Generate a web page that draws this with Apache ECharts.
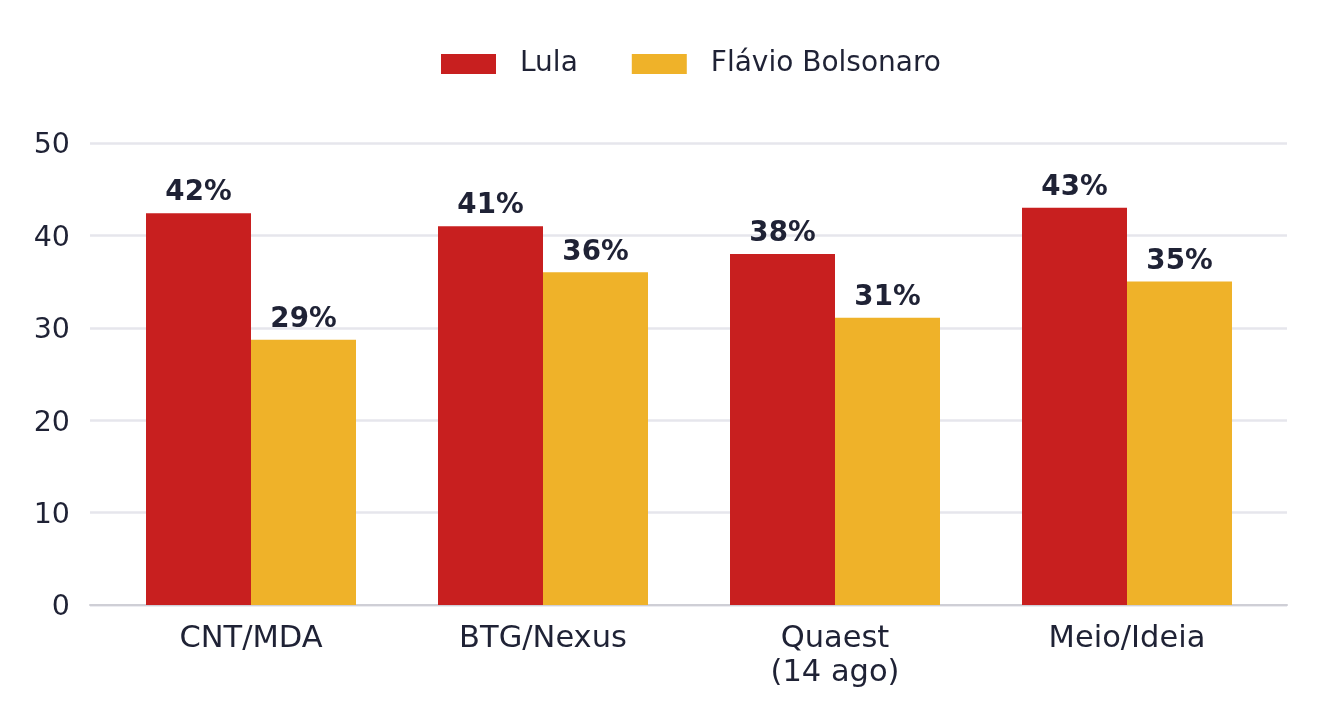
<!DOCTYPE html>
<html>
<head>
<meta charset="utf-8">
<script src="https://cdn.jsdelivr.net/npm/echarts@6/dist/echarts.min.js"></script>
<style>
  html, body { margin: 0; padding: 0; background: #fff; }
  #chart { width: 1320px; height: 720px; }
</style>
</head>
<body>
<div id="chart"></div>
<script>
var categories = ['CNT/MDA', 'BTG/Nexus', 'Quaest\n(14 ago)', 'Meio/Ideia'];
var lulaValues = [42.4, 41, 38, 43];
var flavioValues = [28.7, 36, 31.1, 35];
var seriesNames = ['Lula', 'Flávio Bolsonaro'];
var colors = ['#c81f1f', '#efb229'];
var textColor = '#1f2235';

var labelStyle = {
    show: true,
    position: 'top',
    distance: 6,
    color: textColor,
    fontFamily: 'DejaVu Sans',
    fontWeight: 'bold',
    fontSize: 27.7,
    formatter: function (p) { return Math.round(p.value) + '%'; }
};

var option = {
    animation: false,
    backgroundColor: '#fff',
    textStyle: { fontFamily: 'DejaVu Sans' },
    legend: {
        data: seriesNames,
        left: 436,
        top: 45,
        itemWidth: 55,
        itemHeight: 20,
        itemGap: 54,
        icon: 'rect',
        textStyle: {
            color: textColor,
            fontSize: 28,
            fontFamily: 'DejaVu Sans',
            padding: [0, 0, 0, 19]
        }
    },
    grid: [
        { left: 90, right: 33, top: 143, bottom: 115 },
        { left: 105, right: 47, top: 143, bottom: 115 }
    ],
    xAxis: [
        {
            gridIndex: 0,
            type: 'value',
            min: 0,
            max: 1,
            axisLine: { show: true, onZero: false, lineStyle: { color: '#cfcfd6', width: 2 } },
            axisTick: { show: false },
            axisLabel: { show: false },
            splitLine: { show: false }
        },
        {
            gridIndex: 1,
            type: 'category',
            data: categories,
            axisLine: { show: false },
            axisTick: { show: false },
            axisLabel: {
                color: textColor,
                fontSize: 30.5,
                lineHeight: 34,
                margin: 17,
                fontFamily: 'DejaVu Sans'
            }
        }
    ],
    yAxis: [
        {
            gridIndex: 0,
            type: 'value',
            min: 0,
            max: 50,
            interval: 10,
            axisLine: { show: false },
            axisTick: { show: false },
            axisLabel: {
                color: textColor,
                fontSize: 28.5,
                margin: 20,
                verticalAlign: 'top',
                lineHeight: 6,
                fontFamily: 'DejaVu Sans'
            },
            splitLine: { lineStyle: { color: '#e6e6ec', width: 2.5 } }
        },
        {
            gridIndex: 1,
            type: 'value',
            min: 0,
            max: 50,
            interval: 10,
            axisLine: { show: false },
            axisTick: { show: false },
            axisLabel: { show: false },
            splitLine: { show: false }
        }
    ],
    series: [
        {
            name: seriesNames[0],
            type: 'bar',
            xAxisIndex: 1,
            yAxisIndex: 1,
            data: lulaValues,
            barWidth: 105,
            barGap: '0%',
            itemStyle: { color: colors[0] },
            label: labelStyle
        },
        {
            name: seriesNames[1],
            type: 'bar',
            xAxisIndex: 1,
            yAxisIndex: 1,
            data: flavioValues,
            barWidth: 105,
            barGap: '0%',
            itemStyle: { color: colors[1] },
            label: labelStyle
        }
    ]
};

var myChart = echarts.init(document.getElementById('chart'));
myChart.setOption(option);
</script>
</body>
</html>
